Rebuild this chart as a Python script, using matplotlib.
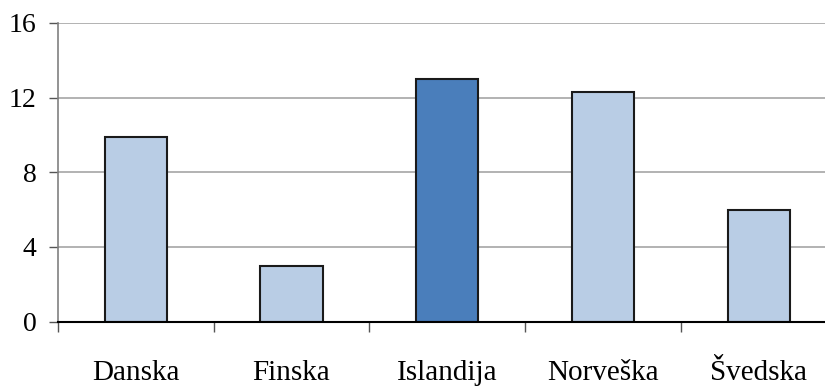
import matplotlib.pyplot as plt
import numpy as np

countries = ["Danska", "Finska", "Islandija", "Norveška", "Švedska"]
values = [9.9, 3.0, 13.0, 12.3, 6.0]
highlight = "Islandija"

light = "#b9cde5"
dark = "#4a7ebb"

plt.rcParams['font.family'] = ['Liberation Serif', 'DejaVu Serif']

fig = plt.figure(figsize=(8.25, 3.87), dpi=100, facecolor='white')
# axes runs a bit past the right edge of the figure, so the last category is cut off
ax = fig.add_axes([58 / 825, 65.5 / 387, 778.5 / 825, 298.5 / 387])

x = np.arange(len(countries)) + 0.5
colors = [dark if c == highlight else light for c in countries]
ax.bar(x, values, width=0.4, color=colors, edgecolor='#1a1a1a', linewidth=1.5, zorder=3)

ax.set_xlim(0, len(countries))
ax.set_ylim(0, 16)
ax.set_yticks([0, 4, 8, 12, 16])
ax.yaxis.grid(True, color='#a6a6a6', linewidth=1.2, zorder=0)

# category boundaries carry the tick marks, centres carry the labels
ax.set_xticks(np.arange(len(countries) + 1))
ax.set_xticklabels([])
ax.set_xticks(x, minor=True)
ax.set_xticklabels(countries, minor=True, fontsize=21)
ax.tick_params(axis='x', which='major', direction='out', length=7, width=1, color='#555555')
ax.tick_params(axis='x', which='minor', length=0, pad=28)
ax.tick_params(axis='y', direction='out', length=6.5, width=1, color='#555555',
               labelsize=20, pad=9)

for s in ['top', 'right']:
    ax.spines[s].set_visible(False)
ax.spines['left'].set_color('#808080')
ax.spines['left'].set_linewidth(1.2)
ax.spines['bottom'].set_color('black')
ax.spines['bottom'].set_linewidth(1.5)
ax.spines['bottom'].set_zorder(4)

plt.savefig('out.png', dpi=100, facecolor='white')
